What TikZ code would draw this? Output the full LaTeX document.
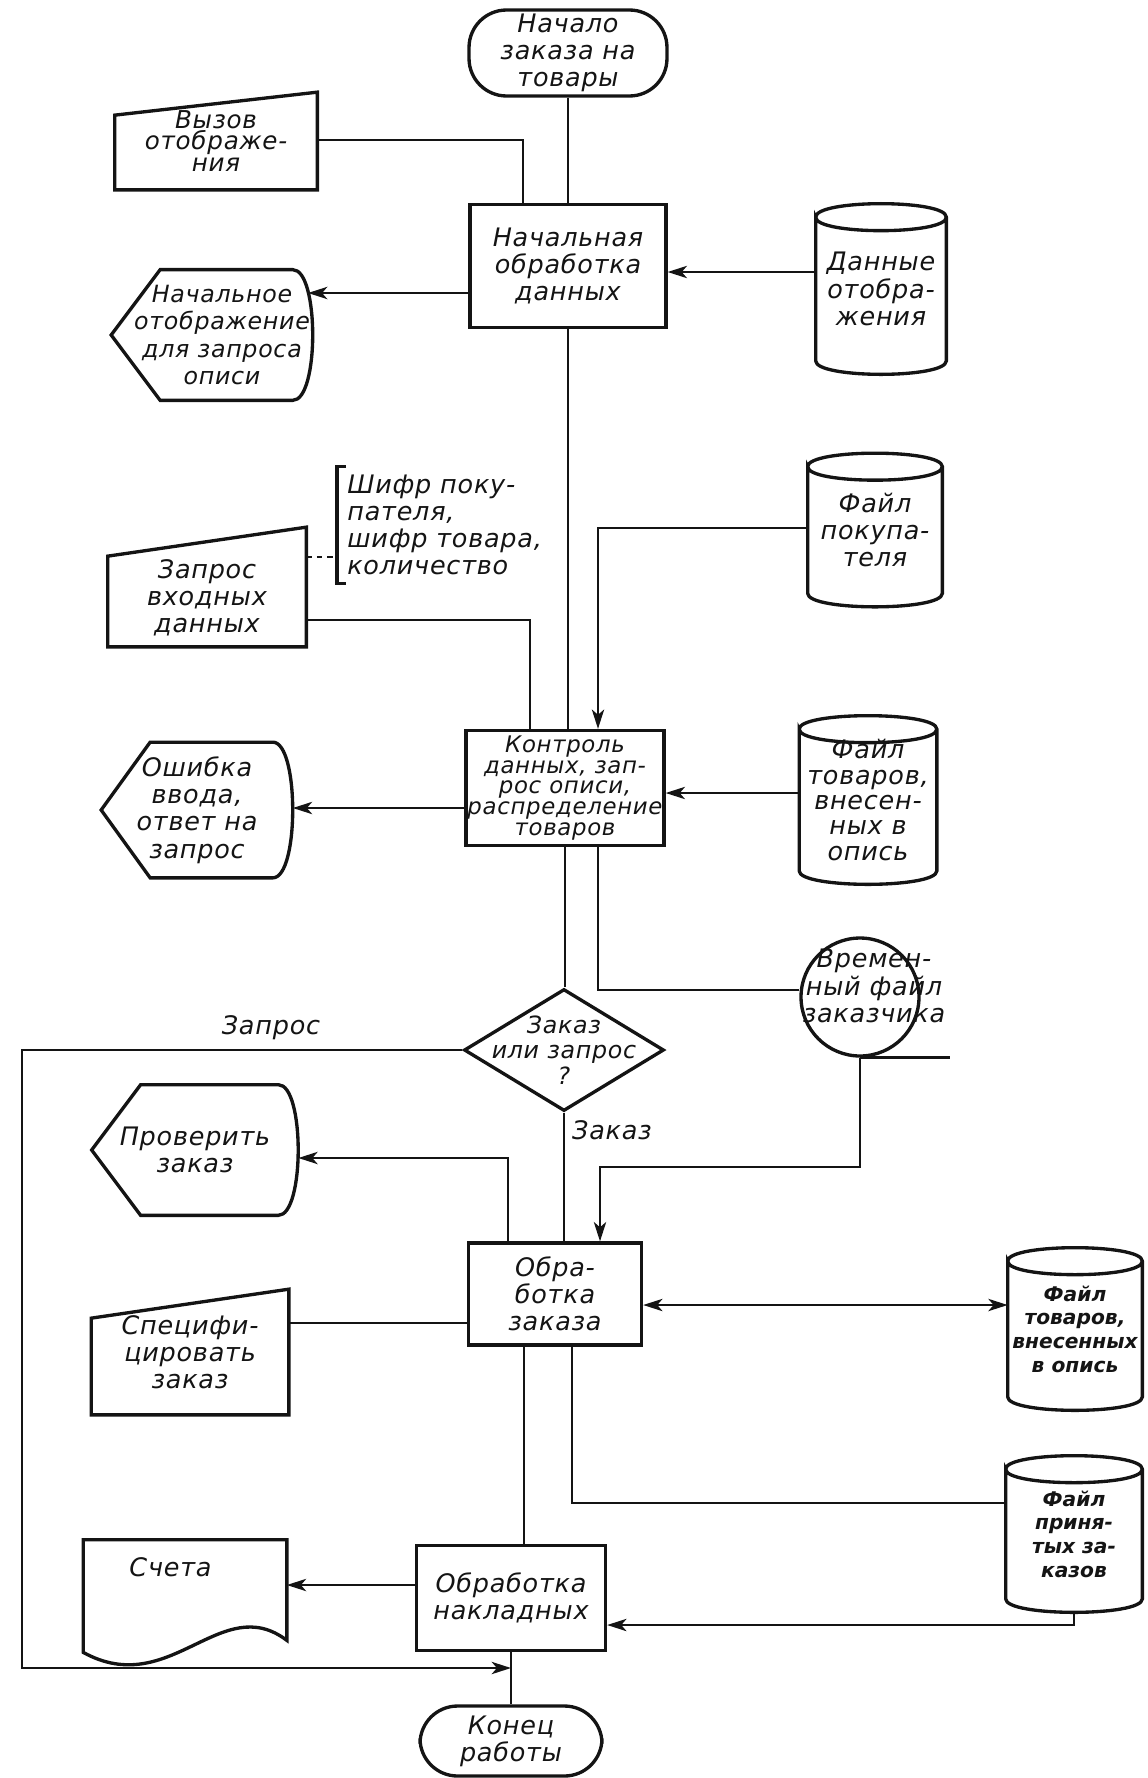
\documentclass[tikz,border=0pt]{standalone}
\usepackage{fontspec}
\setmainfont{DejaVu Sans}
\newfontfamily\handfont{DejaVu Sans}[LetterSpace=3.0]
\usepackage{tikz}
\usetikzlibrary{shapes.geometric, arrows.meta, calc}
\definecolor{ink}{RGB}{20,20,20}
\tikzset{
  txt/.style={font=\handfont\fontsize{14.5}{15.5}\selectfont\itshape, align=center,
    inner sep=0pt, text=ink},
  smalltxt/.style={txt, font=\handfont\fontsize{13}{11.8}\selectfont\itshape},
  boldtxt/.style={txt, font=\fontsize{11.5}{13.5}\selectfont\bfseries\itshape},
  frame/.style={draw=ink, line width=1.9pt},
  block/.style={rectangle, frame, txt},
  term/.style={rectangle, rounded corners=0.75cm, frame, txt},
  decision/.style={diamond, frame, inner sep=0pt},
  holder/.style={rectangle, txt},
  line/.style={draw=ink, line width=1.3pt},
  arrow/.style={line, -{Stealth[length=11pt,width=7pt,inset=3pt]}},
  dblarrow/.style={line, {Stealth[length=11pt,width=7pt,inset=3pt]}-{Stealth[length=11pt,width=7pt,inset=3pt]}}
}
% outlines drawn round a holder node
\newcommand{\cylframe}[1]{%
  \draw[frame] ([yshift=-0.27cm]#1.north west)
    .. controls ([yshift=0.09cm]#1.north west) and ([yshift=0.09cm]#1.north east) .. ([yshift=-0.27cm]#1.north east)
    .. controls ([yshift=-0.63cm]#1.north east) and ([yshift=-0.63cm]#1.north west) .. ([yshift=-0.27cm]#1.north west)
    -- ([yshift=0.27cm]#1.south west)
    .. controls ([yshift=-0.09cm]#1.south west) and ([yshift=-0.09cm]#1.south east) .. ([yshift=0.27cm]#1.south east)
    -- ([yshift=-0.27cm]#1.north east);}
\newcommand{\dispframe}[1]{%
  \draw[frame] (#1.west) -- ([xshift=0.98cm]#1.north west) -- ([xshift=-0.4cm]#1.north east)
    .. controls ([xshift=0.13cm]#1.north east) and ([xshift=0.13cm]#1.south east) .. ([xshift=-0.4cm]#1.south east)
    -- ([xshift=0.98cm]#1.south west) -- cycle;}
\newcommand{\inframe}[2]{%
  \draw[frame] (#1.south west) -- ([yshift=-#2]#1.north west) -- (#1.north east) -- (#1.south east) -- cycle;}

\begin{document}
\begin{tikzpicture}[x=0.02cm, y=-0.02cm]
  \useasboundingbox (0,0) rectangle (1147,1778);
  % ── Start and initial processing ──
  \node[term, minimum width=3.96cm, minimum height=1.72cm] (start) at (568,53) {Начало\\заказа на\\товары};
  \node[block, minimum width=3.92cm, minimum height=2.46cm] (init) at (568,266) {Начальная\\обработка\\данных};
  \node[holder, font=\handfont\fontsize{14}{12.5}\selectfont\itshape, minimum width=4.04cm, minimum height=1.94cm] (call) at (216,141)
    {Вызов\\отображе-\\ния};
  \inframe{call}{0.46cm}
  \node[holder, minimum width=2.6cm, minimum height=3.4cm] (dispdata) at (881,289) {Данные\\отобра-\\жения};
  \cylframe{dispdata}
  \node[holder, minimum width=4.02cm, minimum height=2.6cm] (initdisp) at (212,335) {};
  \dispframe{initdisp}
  \node[txt, font=\handfont\fontsize{13.5}{15.5}\selectfont\itshape] (initdisptxt) at ([xshift=0.2cm]initdisp.center)
    {Начальное\\отображение\\для запроса\\описи};
  % ── Input check ──
  \node[holder, minimum width=3.96cm, minimum height=2.38cm] (inreq) at (207,587) {};
  \inframe{inreq}{0.58cm}
  \node[txt] (inreqtxt) at ([yshift=-0.22cm]inreq.center) {Запрос\\входных\\данных};
  \node[txt, anchor=west, align=left, inner xsep=0.2cm, minimum height=2.32cm] (codes) at (337,525)
    {Шифр поку-\\пателя,\\шифр товара,\\количество};
  \draw[frame] ([xshift=0.18cm]codes.north west) -- (codes.north west) -- (codes.south west) -- ([xshift=0.18cm]codes.south west);
  \node[holder, minimum width=2.68cm, minimum height=3.06cm] (custfile) at (875,530) {Файл\\покупа-\\теля};
  \cylframe{custfile}
  \node[block, smalltxt, minimum width=3.96cm, minimum height=2.3cm] (check) at (565,788)
    {Контроль\\данных, зап-\\рос описи,\\распределение\\товаров};
  \node[holder, minimum width=3.82cm, minimum height=2.7cm] (inerr) at (197,810) {Ошибка\\ввода,\\ответ на\\запрос};
  \dispframe{inerr}
  \node[holder, font=\handfont\fontsize{14.5}{14.5}\selectfont\itshape, minimum width=2.74cm, minimum height=3.36cm] (stockfile) at (868,800)
    {Файл\\товаров,\\внесен-\\ных в\\опись};
  \cylframe{stockfile}
  % temporary tape file
  \node[circle, frame, minimum size=2.36cm, inner sep=0pt] (tape) at (860,997) {};
  \draw[frame] (tape.south) -- ++(90,0);
  \node[txt] (tapetxt) at (874,986) {Времен-\\ный файл\\заказчика};
  % ── Order or query ──
  \node[decision, minimum width=4cm, minimum height=2.44cm] (choice) at (564,1050) {};
  \node[txt, font=\handfont\fontsize{13.5}{14.5}\selectfont\itshape] (choicetxt) at (choice) {Заказ\\или запрос\\?};
  \node[holder, minimum width=4.12cm, minimum height=2.6cm] (verify) at (195,1150) {Проверить\\заказ};
  \dispframe{verify}
  \node[block, minimum width=3.46cm, minimum height=2.04cm] (order) at (555,1294) {Обра-\\ботка\\заказа};
  \node[holder, minimum width=3.94cm, minimum height=2.5cm] (spec) at (190,1352) {Специфи-\\цировать\\заказ};
  \inframe{spec}{0.58cm}
  \node[holder, boldtxt, minimum width=2.68cm, minimum height=3.24cm] (stock2) at (1075,1329) {Файл\\товаров,\\внесенных\\в опись};
  \cylframe{stock2}
  \node[holder, boldtxt, minimum width=2.72cm, minimum height=3.12cm] (accepted) at (1074,1534) {Файл\\приня-\\тых за-\\казов};
  \cylframe{accepted}
  % ── Invoices and end ──
  \node[block, minimum width=3.78cm, minimum height=2.1cm] (invoice) at (511,1598) {Обработка\\накладных};
  \node[holder, minimum width=4.06cm, minimum height=2.0cm] (bills) at (185,1590) {};
  \draw[frame] (bills.north west) -- (bills.north east) -- (bills.south east)
    .. controls ([shift={(-1.32cm,1.0cm)}]bills.south east) and ([shift={(1.74cm,-1.2cm)}]bills.south west)
    .. ([yshift=-0.24cm]bills.south west) -- cycle;
  \node[txt] (billstxt) at ([shift={(-0.29cm,0.46cm)}]bills.center) {Счета};
  \node[term, minimum width=3.64cm, minimum height=1.4cm] (finish) at (511,1741) {Конец\\работы};

  % ── Bend points ──
  \coordinate (jcall) at (523,140);
  \coordinate (jdisp) at (740,272);
  \coordinate (jinit) at (308,293);
  \coordinate (jreq) at (530,620);
  \coordinate (jcust) at (598,528);
  \coordinate (jdash) at (320,557);
  \coordinate (jstock) at (730,793);
  \coordinate (jerr) at (380,808);
  \coordinate (jtmp) at (598,990);
  \coordinate (jback) at (600,1167);
  \coordinate (jloopa) at (22,1050);
  \coordinate (jloopb) at (22,1668);
  \coordinate (jverify) at (508,1158);
  \coordinate (jspec) at (380,1323);
  \coordinate (jstocka) at (820,1305);
  \coordinate (jinv) at (524,1450);
  \coordinate (jacc) at (572,1503);
  \coordinate (jaccb) at (850,1625);
  \coordinate (jbills) at (350,1585);

  % ── Connectors ──
  \draw[line] (start) -- (init);
  \draw[line] (call.east |- jcall) -- (jcall) -- (jcall |- init.north);
  \draw[arrow] (dispdata.west |- jdisp) -- (init.east |- jdisp);
  \draw[arrow] (init.west |- jinit) -- (jinit);
  \draw[line] (init.south) -- (init.south |- check.north);
  \draw[line] (inreq.east |- jreq) -- (jreq) -- (jreq |- check.north);
  \draw[line, dashed] (inreq.east |- jdash) -- (codes.west |- jdash);
  \draw[arrow] (custfile.west |- jcust) -- (jcust) -- (jcust |- check.north);
  \draw[arrow] (stockfile.west |- jstock) -- (check.east |- jstock);
  \draw[arrow] (check.west |- jerr) -- (inerr.east |- jerr);
  \draw[line] (jtmp |- check.south) -- (jtmp) -- (tape.west |- jtmp);
  \draw[line] (check.south) -- (check.south |- choice.north);
  \draw[arrow] (tape.south) -- (tape.south |- jback) -- (jback) -- (jback |- order.north);
  % query branch
  \draw[arrow] (choice.west) -- (jloopa) -- (jloopb) -- (jloopb -| finish.north);
  \node[txt] (querylbl) at (271,1028) {Запрос};
  % order branch
  \draw[line] (choice.south) -- (choice.south |- order.north);
  \node[txt] (orderlbl) at (612,1130) {Заказ};
  \draw[arrow] (jverify |- order.north) -- (jverify) -- (verify.east |- jverify);
  \draw[line] (order.west |- jspec) -- (spec.east |- jspec);
  \draw[dblarrow] (order.east |- jstocka) -- (stock2.west |- jstocka);
  \draw[line] (jinv |- order.south) -- (jinv |- invoice.north);
  \draw[line] (jacc |- order.south) -- (jacc) -- (accepted.west |- jacc);
  \draw[arrow] (accepted.south) -- (accepted.south |- jaccb) -- (invoice.east |- jaccb);
  \draw[arrow] (invoice.west |- jbills) -- (bills.east |- jbills);
  \draw[line] (invoice) -- (finish);
\end{tikzpicture}
\end{document}
